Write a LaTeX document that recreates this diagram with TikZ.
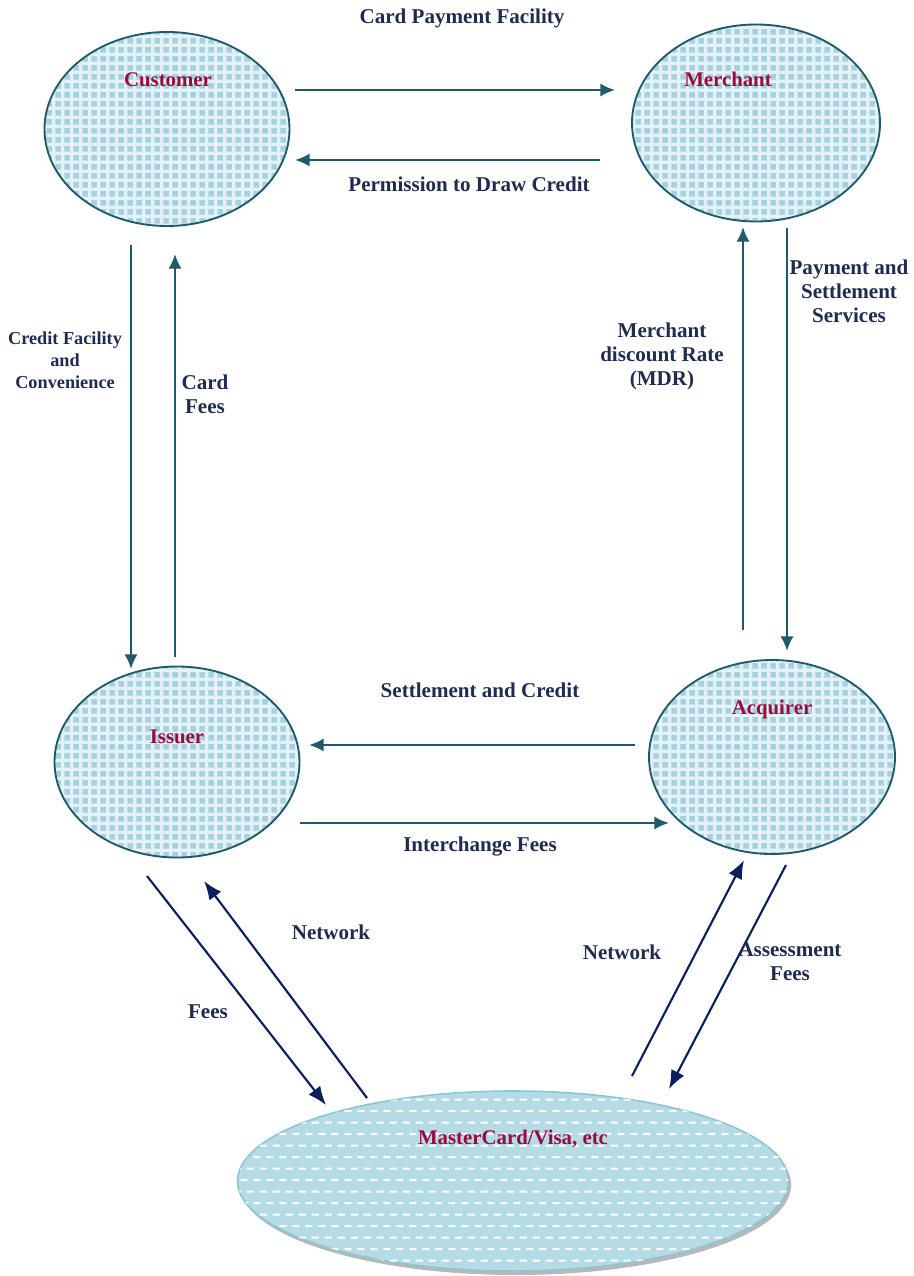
\documentclass[tikz,border=0pt]{standalone}
\usepackage{fontspec}
\setmainfont{Liberation Serif}
\usetikzlibrary{shapes.geometric,patterns,arrows.meta,shadows}
\definecolor{teal1}{HTML}{1F5A6A}
\definecolor{navy1}{HTML}{0A1F5C}
\definecolor{lbl}{HTML}{1F2C4F}
\definecolor{wine}{HTML}{9B0A3C}
\definecolor{checkbg}{HTML}{E4F2F7}
\definecolor{checkfg}{HTML}{A6D2E0}
\definecolor{mcfill}{HTML}{B5DBE5}
\definecolor{mcedge}{HTML}{8CC6D6}
\pgfdeclarepatternformonly{checks}{\pgfqpoint{0pt}{0pt}}{\pgfqpoint{6.8pt}{6.8pt}}{\pgfqpoint{6.8pt}{6.8pt}}{%
  \pgfpathrectangle{\pgfqpoint{1.2pt}{1.2pt}}{\pgfqpoint{4.4pt}{4.4pt}}\pgfusepath{fill}}
\pgfdeclarepatternformonly{dashes}{\pgfqpoint{0pt}{0pt}}{\pgfqpoint{10pt}{17.6pt}}{\pgfqpoint{10pt}{17.6pt}}{%
  \pgfpathrectangle{\pgfqpoint{1pt}{3pt}}{\pgfqpoint{5.5pt}{1.5pt}}\pgfusepath{fill}%
  \pgfpathrectangle{\pgfqpoint{6pt}{11.8pt}}{\pgfqpoint{5.5pt}{1.5pt}}\pgfusepath{fill}%
  \pgfpathrectangle{\pgfqpoint{-4pt}{11.8pt}}{\pgfqpoint{5.5pt}{1.5pt}}\pgfusepath{fill}}
\tikzset{
  party/.style={ellipse, draw=teal1, line width=1.4pt, inner sep=0pt,
    preaction={fill=checkbg}, pattern=checks, pattern color=checkfg},
  ename/.style={text=wine, font=\bfseries\fontsize{15.6}{18}\selectfont},
  lab/.style={text=lbl, font=\bfseries\fontsize{15.8}{18}\selectfont, align=center},
  slab/.style={text=lbl, font=\bfseries\fontsize{13.7}{16.5}\selectfont, align=center},
  tarrow/.style={draw=teal1, line width=1.9pt, -{Latex[length=11pt,width=10pt]}},
  narrow/.style={draw=navy1, line width=1.6pt, -{Latex[length=14pt,width=11pt]}},
}
\begin{document}
\begin{tikzpicture}[x=0.75pt,y=-0.75pt]
\useasboundingbox (0,0) rectangle (913,1276);
% ellipses
\node[party, minimum width=245*0.75pt, minimum height=194*0.75pt] (cust) at (167,129) {};
\node[party, minimum width=248*0.75pt, minimum height=197*0.75pt] (merch) at (756,123) {};
\node[party, minimum width=245*0.75pt, minimum height=191*0.75pt] (iss) at (177,762) {};
\node[party, minimum width=246*0.75pt, minimum height=194*0.75pt] (acq) at (772,757) {};
\node[ellipse, inner sep=0pt, minimum width=551*0.75pt, minimum height=180*0.75pt,
  draw=mcedge, line width=1.2pt, fill=mcfill,
  drop shadow={shadow xshift=2pt, shadow yshift=-3pt, fill=gray!70, opacity=0.8},
  postaction={pattern=dashes, pattern color=white}] (mc) at (513,1181) {};
% names
\node[ename] (custL) at (168,80) {Customer};
\node[ename] (merchL) at (728,79) {Merchant};
\node[ename] (issL) at (177,737) {Issuer};
\node[ename] (acqL) at (772,709) {Acquirer};
\node[ename] (mcL) at (513,1139) {MasterCard/Visa, etc};
% endpoints
\coordinate (a1s) at (295,90); \coordinate (a1e) at (615,90);
\coordinate (a2s) at (600,160); \coordinate (a2e) at (295,160);
\coordinate (a3s) at (131,245); \coordinate (a3e) at (131,669);
\coordinate (a4s) at (175,657); \coordinate (a4e) at (175,254);
\coordinate (a5s) at (743,630); \coordinate (a5e) at (743,227);
\coordinate (a6s) at (787,228); \coordinate (a6e) at (787,651);
\coordinate (a7s) at (635,745); \coordinate (a7e) at (309,745);
\coordinate (a8s) at (300,823); \coordinate (a8e) at (669,823);
\coordinate (a9s) at (147,876); \coordinate (a9e) at (326,1105);
\coordinate (a10s) at (367,1098); \coordinate (a10e) at (204,881);
\coordinate (a11s) at (632,1076); \coordinate (a11e) at (744,860);
\coordinate (a12s) at (786,865); \coordinate (a12e) at (669,1089);
% connectors
\draw[tarrow] (a1s) -- (a1e);
\draw[tarrow] (a2s) -- (a2e);
\draw[tarrow] (a3s) -- (a3e);
\draw[tarrow] (a4s) -- (a4e);
\draw[tarrow] (a5s) -- (a5e);
\draw[tarrow] (a6s) -- (a6e);
\draw[tarrow] (a7s) -- (a7e);
\draw[tarrow] (a8s) -- (a8e);
\draw[narrow] (a9s) -- (a9e);
\draw[narrow] (a10s) -- (a10e);
\draw[narrow] (a11s) -- (a11e);
\draw[narrow] (a12s) -- (a12e);
% labels
\node[lab] (l1) at (462,18) {Card Payment Facility};
\node[lab] (l2) at (469,184) {Permission to Draw Credit};
\node[slab] (l3) at (65,360) {Credit Facility\\and\\Convenience};
\node[lab] (l4) at (205,394) {Card\\Fees};
\node[lab] (l5) at (662,356) {Merchant\\discount Rate\\(MDR)};
\node[lab] (l6) at (849,291) {Payment and\\Settlement\\Services};
\node[lab] (l7) at (480,690) {Settlement and Credit};
\node[lab] (l8) at (480,847) {Interchange Fees};
\node[lab] (l9) at (208,1012) {Fees};
\node[lab] (l10) at (331,932) {Network};
\node[lab] (l11) at (622,952) {Network};
\node[lab] (l12) at (790,962) {Assessment\\Fees};
\end{tikzpicture}
\end{document}
